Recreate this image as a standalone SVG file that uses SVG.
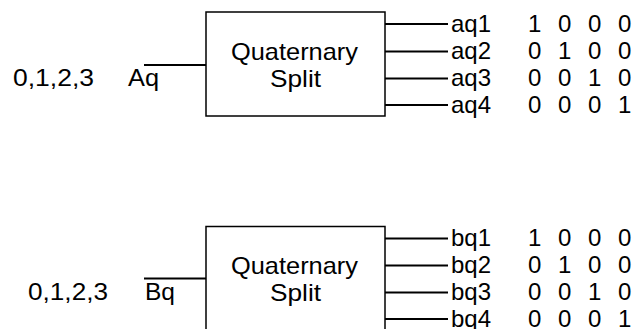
<svg xmlns="http://www.w3.org/2000/svg" width="634" height="329" viewBox="0 0 634 329">
<style>
text{font-family:"Liberation Sans",Arial,sans-serif;font-size:24px;fill:#000}
.box{fill:#fff;stroke:#000;stroke-width:1.5}
.w{stroke:#000;stroke-width:2;fill:none}
.m{word-spacing:10px}
</style>
<rect width="634" height="329" fill="#fff"/>
<g id="inA">
<text x="13" y="86" textLength="81" lengthAdjust="spacingAndGlyphs">0,1,2,3</text>
<text x="128" y="86" textLength="31" lengthAdjust="spacingAndGlyphs">Aq</text>
</g>
<g id="splitA">
<rect class="box" x="206" y="12" width="179" height="104"/>
<text x="231" y="60" textLength="127" lengthAdjust="spacingAndGlyphs">Quaternary</text>
<text x="270" y="87" textLength="51" lengthAdjust="spacingAndGlyphs">Split</text>
</g>
<g id="outA">
<text x="451" y="32">aq1</text>
<text x="451" y="59">aq2</text>
<text x="451" y="86">aq3</text>
<text x="451" y="113">aq4</text>
<text class="m" x="528" y="32">1 0 0 0</text>
<text class="m" x="528" y="59">0 1 0 0</text>
<text class="m" x="528" y="86">0 0 1 0</text>
<text class="m" x="528" y="113">0 0 0 1</text>
</g>
<g id="inB">
<text x="28" y="300" textLength="80" lengthAdjust="spacingAndGlyphs">0,1,2,3</text>
<text x="145" y="300" textLength="30" lengthAdjust="spacingAndGlyphs">Bq</text>
</g>
<g id="splitB">
<rect class="box" x="206" y="226.5" width="179" height="120"/>
<text x="231" y="274" textLength="127" lengthAdjust="spacingAndGlyphs">Quaternary</text>
<text x="270" y="301" textLength="51" lengthAdjust="spacingAndGlyphs">Split</text>
</g>
<g id="outB">
<text x="451" y="246">bq1</text>
<text x="451" y="273">bq2</text>
<text x="451" y="300">bq3</text>
<text x="451" y="327">bq4</text>
<text class="m" x="528" y="246">1 0 0 0</text>
<text class="m" x="528" y="273">0 1 0 0</text>
<text class="m" x="528" y="300">0 0 1 0</text>
<text class="m" x="528" y="327">0 0 0 1</text>
</g>
<g id="connectors">
<line class="w" x1="144" y1="65" x2="206" y2="65"/>
<line class="w" x1="385" y1="24" x2="448" y2="24"/>
<line class="w" x1="385" y1="51.5" x2="448" y2="51.5"/>
<line class="w" x1="385" y1="78.5" x2="448" y2="78.5"/>
<line class="w" x1="385" y1="105" x2="448" y2="105"/>
<line class="w" x1="144" y1="278.5" x2="206" y2="278.5"/>
<line class="w" x1="385" y1="238.5" x2="448" y2="238.5"/>
<line class="w" x1="385" y1="265.5" x2="448" y2="265.5"/>
<line class="w" x1="385" y1="292.5" x2="448" y2="292.5"/>
<line class="w" x1="385" y1="319" x2="448" y2="319"/>
</g>
</svg>
